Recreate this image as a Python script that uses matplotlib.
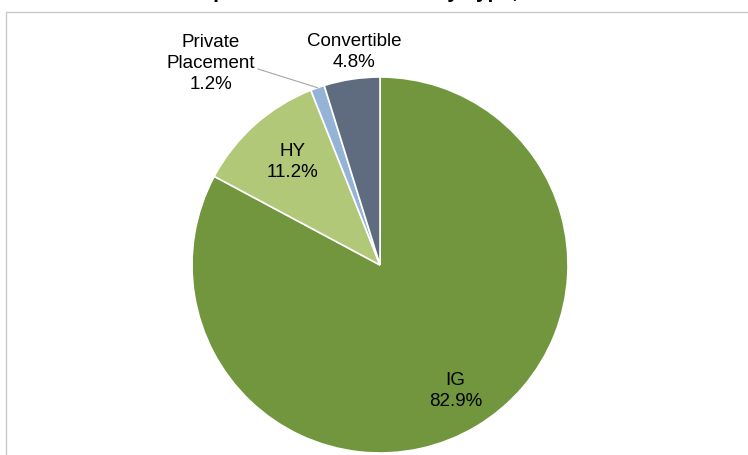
import numpy as np
import matplotlib.pyplot as plt
from matplotlib.patches import Rectangle

plt.rcParams['font.family'] = ['Liberation Sans', 'DejaVu Sans']

#----------------------------------------------------#
# data
categories = ['IG', 'HY', 'Private\nPlacement', 'Convertible']
shares = [82.9, 11.2, 1.2, 4.8]
colors = ['#71963D', '#B0C878', '#95B3D7', '#5F6B7E']
title = 'Corporate Bond Portfolio by Type, 2023'
#----------------------------------------------------#
W, H = 748, 455
fig = plt.figure(figsize=(W / 100, H / 100), dpi=100)
ax = fig.add_axes([0, 0, 1, 1])

cx, cy, R = 380, 190, 188
wedges, _ = ax.pie(shares, colors=colors, startangle=90, counterclock=False,
                   center=(cx, cy), radius=R,
                   wedgeprops=dict(edgecolor='white', linewidth=1.2))
ax.set_xlim(0, W)
ax.set_ylim(0, H)
ax.set_aspect('auto')
ax.axis('off')

# chart border (cropped on right/bottom)
ax.add_patch(Rectangle((6.5, -10), 900, H - 12 + 10, fill=False,
                       edgecolor='#C8C8C8', linewidth=1.0, clip_on=False))

# labels: radial distance and small angle shift (degrees) for each
dists = [0.78, 0.72, None, 1.14]
shifts = [0, -1.5, 0, -1.6]
for w, cat, val, d, s in zip(wedges, categories, shares, dists, shifts):
    mid = np.deg2rad((w.theta1 + w.theta2) / 2 + s)
    txt = '{}\n{:.1f}%'.format(cat, val)
    if d is not None:
        ax.text(cx + d * R * np.cos(mid), cy + d * R * np.sin(mid), txt,
                ha='center', va='center', fontsize=13.5, linespacing=1.3)
    else:
        ex, ey = cx + R * np.cos(mid), cy + R * np.sin(mid)
        ang = np.deg2rad(130)
        ax.annotate(txt, xy=(ex, ey),
                    xytext=(cx + 1.40 * R * np.cos(ang), cy + 1.40 * R * np.sin(ang)),
                    ha='center', va='center', fontsize=13.5, linespacing=1.3,
                    arrowprops=dict(arrowstyle='-', color='#A6A6A6', lw=0.8,
                                    shrinkA=0, shrinkB=0, relpos=(1.0, 0.42)))

# title (mostly cropped off the top)
fig.text(0.5, (H + 2) / H, title, ha='center', va='baseline',
         fontsize=15, fontweight='bold')

fig.savefig('out.png', dpi=100)
